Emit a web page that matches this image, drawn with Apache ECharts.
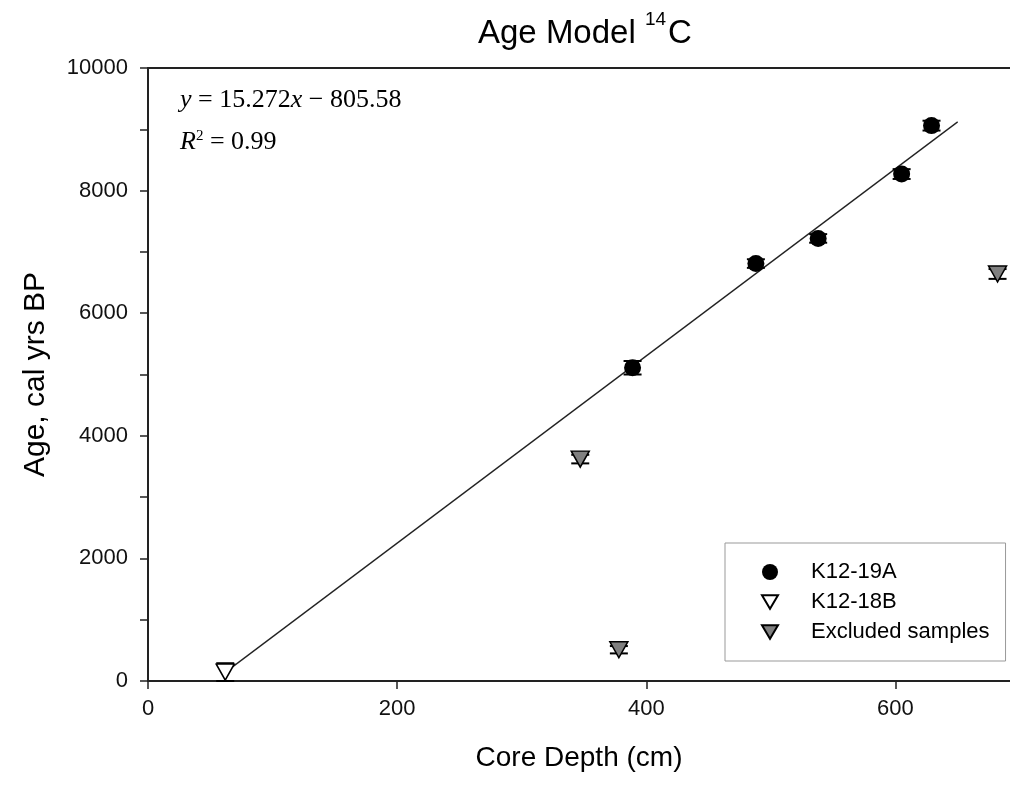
<!DOCTYPE html>
<html>
<head>
<meta charset="utf-8">
<script src="https://cdn.jsdelivr.net/npm/echarts@6/dist/echarts.min.js"></script>
<style>html,body{margin:0;padding:0;background:#fff}#c{width:1010px;height:785px}</style>
</head>
<body>
<div id="c"></div>
<script>
// ---- data ----
const xTicks = [0, 200, 400, 600];
const yTicks = [0, 2000, 4000, 6000, 8000, 10000];
const k19Depth = [389, 488, 538, 605, 629];
const k19Age   = [5110, 6810, 7220, 8270, 9060];
const k19Err   = [110, 70, 70, 80, 80];
const k18Depth = [62];
const k18Age   = [145];
const k18Err   = [145];
const exDepth  = [347, 378, 682];
const exAge    = [3620, 510, 6640];
const exErr    = [70, 60, 80];
const fitDepth = [62, 650];
const fitAge   = [141, 9121];

const FONT = 'Liberation Sans, Arial, sans-serif';
const SERIF = 'Liberation Serif, Times New Roman, serif';
const TRI = 'path://M0,0 L20,0 L10,17 Z';

function pts(xs, ys) { return xs.map((x, i) => [x, ys[i]]); }
function errPts(xs, ys, es) { return xs.map((x, i) => [x, ys[i], es[i]]); }

function errorSeries(data) {
  return {
    type: 'custom',
    data: data,
    z: 1,
    silent: true,
    renderItem: function (params, api) {
      const x = api.value(0), y = api.value(1), e = api.value(2);
      const top = api.coord([x, y + e]);
      const bot = api.coord([x, y - e]);
      const hw = 9;
      return {
        type: 'group',
        children: [
          { type: 'line', shape: { x1: top[0], y1: top[1], x2: bot[0], y2: bot[1] }, style: { stroke: '#000', lineWidth: 1.5 } },
          { type: 'line', shape: { x1: top[0] - hw, y1: top[1], x2: top[0] + hw, y2: top[1] }, style: { stroke: '#000', lineWidth: 2 } },
          { type: 'line', shape: { x1: bot[0] - hw, y1: bot[1], x2: bot[0] + hw, y2: bot[1] }, style: { stroke: '#000', lineWidth: 2 } }
        ]
      };
    }
  };
}

const chart = echarts.init(document.getElementById('c'), null, { renderer: 'canvas' });
chart.setOption({
  animation: false,
  backgroundColor: '#fff',
  textStyle: { fontFamily: FONT },
  title: {
    text: '{a|Age Model }{b|14}{a|C}',
    left: 478,
    top: 10,
    padding: 0,
    textStyle: {
      fontWeight: 'normal',
      rich: {
        a: { fontFamily: FONT, fontSize: 33, fontWeight: 'normal', color: '#000', verticalAlign: 'bottom', lineHeight: 40 },
        b: { fontFamily: FONT, fontSize: 19, fontWeight: 'normal', color: '#000', verticalAlign: 'top', lineHeight: 40, padding: [0, 2, 0, 0] }
      }
    }
  },
  grid: { left: 148, right: 0, top: 68, bottom: 104, containLabel: false },
  legend: {
    left: 725, top: 543,
    orient: 'vertical',
    backgroundColor: '#fff',
    borderColor: '#999',
    borderWidth: 1,
    padding: [18, 16, 18, 36],
    itemGap: 8,
    itemWidth: 16,
    itemHeight: 16,
    textStyle: { fontFamily: FONT, fontSize: 22, color: '#000', padding: [0, 0, 0, 28] },
    data: [
      { name: 'K12-19A', icon: 'circle' },
      { name: 'K12-18B', icon: TRI },
      { name: 'Excluded samples', icon: TRI }
    ]
  },
  xAxis: [{
    type: 'value', min: 0, max: 692, interval: 200,
    name: 'Core Depth (cm)', nameLocation: 'middle', nameGap: 63,
    nameTextStyle: { fontFamily: FONT, fontSize: 28, color: '#000' },
    axisLine: { show: true, onZero: false, lineStyle: { color: '#222', width: 2 } },
    axisTick: { show: true, inside: false, length: 8, lineStyle: { color: '#222', width: 1.5 } },
    axisLabel: { fontFamily: FONT, fontSize: 22, color: '#111', margin: 17, showMaxLabel: false,
      formatter: v => xTicks.indexOf(v) >= 0 ? String(v) : '' },
    splitLine: { show: false }
  }, {
    type: 'value', min: 0, max: 692, position: 'top',
    axisLine: { show: true, onZero: false, lineStyle: { color: '#222', width: 2 } },
    axisTick: { show: false }, axisLabel: { show: false }, splitLine: { show: false }
  }],
  yAxis: {
    type: 'value', min: 0, max: 10000, interval: 1000,
    name: 'Age, cal yrs BP', nameLocation: 'middle', nameGap: 97,
    nameTextStyle: { fontFamily: FONT, fontSize: 30, color: '#000' },
    axisLine: { show: true, onZero: false, lineStyle: { color: '#222', width: 2 } },
    axisTick: { show: true, inside: false, length: 8, lineStyle: { color: '#222', width: 1.5 } },
    axisLabel: { fontFamily: FONT, fontSize: 22, color: '#111', margin: 20,
      formatter: v => yTicks.indexOf(v) >= 0 ? String(v) : '' },
    splitLine: { show: false }
  },
  graphic: [
    { type: 'text', left: 180, top: 87, style: {
      text: '{i|y} = 15.272{i|x} − 805.58',
      rich: { i: { fontFamily: SERIF, fontStyle: 'italic', fontSize: 26, fill: '#000' } },
      font: '26px ' + SERIF, fill: '#000' } },
    { type: 'text', left: 180, top: 129, style: {
      text: '{i|R}{s|2} = 0.99',
      rich: {
        i: { fontFamily: SERIF, fontStyle: 'italic', fontSize: 26, fill: '#000', verticalAlign: 'bottom' },
        s: { fontFamily: SERIF, fontSize: 15, fill: '#000', verticalAlign: 'top' }
      },
      font: '26px ' + SERIF, fill: '#000' } }
  ],
  series: [
    {
      name: 'fit', type: 'line', data: pts(fitDepth, fitAge),
      showSymbol: false, symbol: 'none', z: 0, silent: true,
      lineStyle: { color: '#222', width: 1.3 }
    },
    errorSeries(errPts(k19Depth, k19Age, k19Err)),
    errorSeries(errPts(k18Depth, k18Age, k18Err)),
    errorSeries(errPts(exDepth, exAge, exErr)),
    {
      name: 'K12-19A', type: 'scatter', data: pts(k19Depth, k19Age),
      symbol: 'circle', symbolSize: 17, z: 5,
      itemStyle: { color: '#000', opacity: 1 }
    },
    {
      name: 'K12-18B', type: 'scatter', data: pts(k18Depth, k18Age),
      symbol: TRI, symbolSize: [18, 16], z: 5,
      itemStyle: { color: '#fff', borderColor: '#000', borderWidth: 1.5, opacity: 1 }
    },
    {
      name: 'Excluded samples', type: 'scatter', data: pts(exDepth, exAge),
      symbol: TRI, symbolSize: [18, 16], z: 5,
      itemStyle: { color: '#808080', borderColor: '#000', borderWidth: 1.5, opacity: 1 }
    }
  ]
});
</script>
</body>
</html>
